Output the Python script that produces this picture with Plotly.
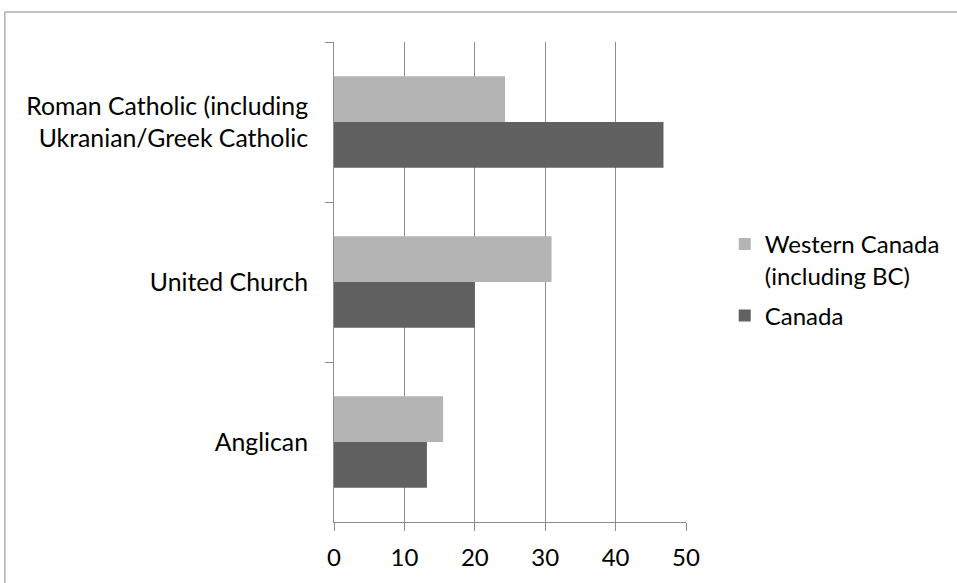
import plotly.graph_objects as go

# Share of population by denomination (%)
categories = [
    "Roman Catholic (including<br>Ukranian/Greek Catholic",
    "United Church",
    "Anglican",
]
western_canada = [24.3, 30.9, 15.5]
canada = [46.8, 20.0, 13.2]

series_names = ["Western Canada<br>(including BC)", "Canada"]
x_ticks = [0, 10, 20, 30, 40, 50]

FONT = "Lato"
GRID = "#8c8c8c"
FS = 24

fig = go.Figure()
fig.add_trace(go.Bar(
    y=categories, x=western_canada, orientation="h", name=series_names[0],
    legendgroup="west",
    marker=dict(color="#b4b4b4", line=dict(width=0)),
))
fig.add_trace(go.Bar(
    y=categories, x=canada, orientation="h", name=series_names[1],
    legendgroup="canada",
    marker=dict(color="#616161", line=dict(width=0)),
))

fig.update_layout(
    width=957, height=583,
    margin=dict(l=334, r=271, t=42, b=61, autoexpand=False),
    paper_bgcolor="white", plot_bgcolor="white",
    barmode="group", bargap=0.4286, bargroupgap=0,
    font=dict(family=FONT, size=FS, color="#000000"),
    showlegend=True,
    legend=dict(
        x=1.11, y=0.625, xanchor="left", yanchor="top",
        valign="top", tracegroupgap=6, traceorder="grouped",
        font=dict(family=FONT, size=FS, color="#000000"),
        itemsizing="constant", itemwidth=30,
        bgcolor="rgba(0,0,0,0)",
    ),
    xaxis=dict(
        range=[0, 50], tickvals=x_ticks, ticktext=[str(v) for v in x_ticks],
        showgrid=True, gridcolor=GRID, gridwidth=1,
        showline=True, linecolor=GRID, linewidth=1,
        ticks="outside", ticklen=8, tickcolor=GRID, ticklabelstandoff=6,
        zeroline=False, fixedrange=True, automargin=False,
    ),
    yaxis=dict(
        autorange="reversed", categoryorder="array", categoryarray=categories,
        showline=True, linecolor=GRID, linewidth=1,
        ticks="outside", ticklen=8, tickcolor=GRID, tickson="boundaries",
        showgrid=False, ticklabelstandoff=20, automargin=False,
        tickfont=dict(family=FONT, size=24.8, color="#000000"),
    ),
    shapes=[
        dict(type="line", xref="paper", yref="paper",
             x0=-0.935, x1=2.0, y0=1.0625, y1=1.0625,
             line=dict(color="#888888", width=1)),
        dict(type="line", xref="paper", yref="paper",
             x0=-0.935, x1=-0.935, y0=1.0625, y1=-1.0,
             line=dict(color="#888888", width=1)),
    ],
)

fig.write_html("out.html")
